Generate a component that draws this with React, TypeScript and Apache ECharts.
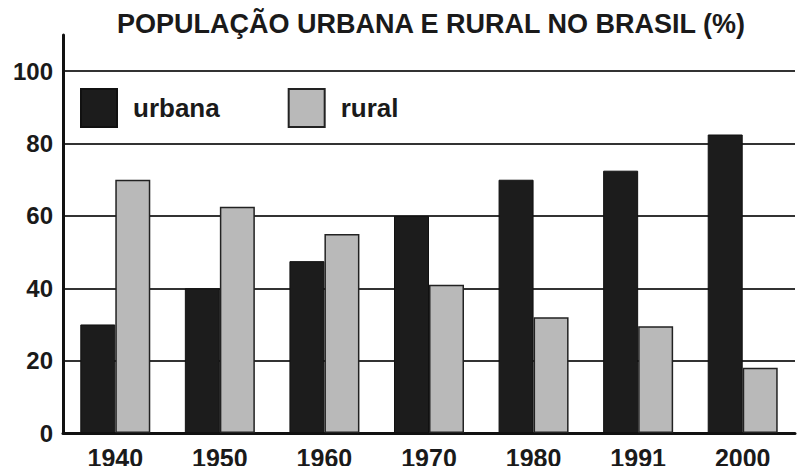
import React, { useEffect, useRef } from "react";
import * as echarts from "echarts";

const titleText = "POPULAÇÃO URBANA E RURAL NO BRASIL (%)";
const years = ["1940", "1950", "1960", "1970", "1980", "1991", "2000"];
const urbana = [30, 40, 47.5, 60, 70, 72.5, 82.5];
const rural = [70, 62.5, 55, 41, 32, 29.5, 18];
const seriesNames = ["urbana", "rural"];

const FONT = "'Liberation Sans', Arial, Helvetica, sans-serif";

export default function App() {
  const ref = useRef<HTMLDivElement>(null);
  useEffect(() => {
    if (!ref.current) return;
    const chart = echarts.init(ref.current, undefined, { renderer: "svg" });
    chart.setOption({
      animation: false,
      backgroundColor: "#ffffff",
      title: {
        text: titleText,
        left: 117,
        top: 10,
        padding: 0,
        textStyle: { fontFamily: FONT, fontWeight: "bold", fontSize: 27, color: "#1a1a1a" },
      },
      legend: {
        left: 80,
        top: 88,
        padding: 0,
        itemWidth: 36,
        itemHeight: 38,
        itemGap: 68,
        icon: "rect",
        data: seriesNames,
        textStyle: {
          fontFamily: FONT,
          fontWeight: "bold",
          fontSize: 26,
          color: "#1a1a1a",
          padding: [0, 0, 0, 11],
        },
      },
      grid: { left: 63, right: 11, top: 35, bottom: 41, containLabel: false },
      xAxis: {
        type: "category",
        data: years,
        axisLine: { show: true, lineStyle: { color: "#111", width: 3 } },
        axisTick: { show: false },
        axisLabel: {
          margin: 12,
          fontFamily: FONT,
          fontWeight: "bold",
          fontSize: 25,
          color: "#1a1a1a",
        },
      },
      yAxis: {
        type: "value",
        min: 0,
        max: 110,
        interval: 20,
        axisLine: { show: true, lineStyle: { color: "#111", width: 3 } },
        axisTick: { show: false },
        axisLabel: {
          margin: 10,
          showMaxLabel: false,
          fontFamily: FONT,
          fontWeight: "bold",
          fontSize: 24,
          color: "#1a1a1a",
        },
        splitLine: {
          show: true,
          showMaxLine: false,
          lineStyle: { color: "#333", width: 2 },
        },
      },
      series: [
        {
          name: seriesNames[0],
          type: "bar",
          data: urbana,
          barWidth: 35,
          barGap: "0%",
          itemStyle: { color: "#1c1c1c", borderColor: "#111", borderWidth: 1 },
        },
        {
          name: seriesNames[1],
          type: "bar",
          data: rural,
          barWidth: 35,
          barGap: "0%",
          itemStyle: { color: "#b9b9b9", borderColor: "#222", borderWidth: 1.5 },
        },
      ],
    });
    return () => chart.dispose();
  }, []);
  return <div ref={ref} style={{ width: 806, height: 474, margin: -8 }} />;
}
